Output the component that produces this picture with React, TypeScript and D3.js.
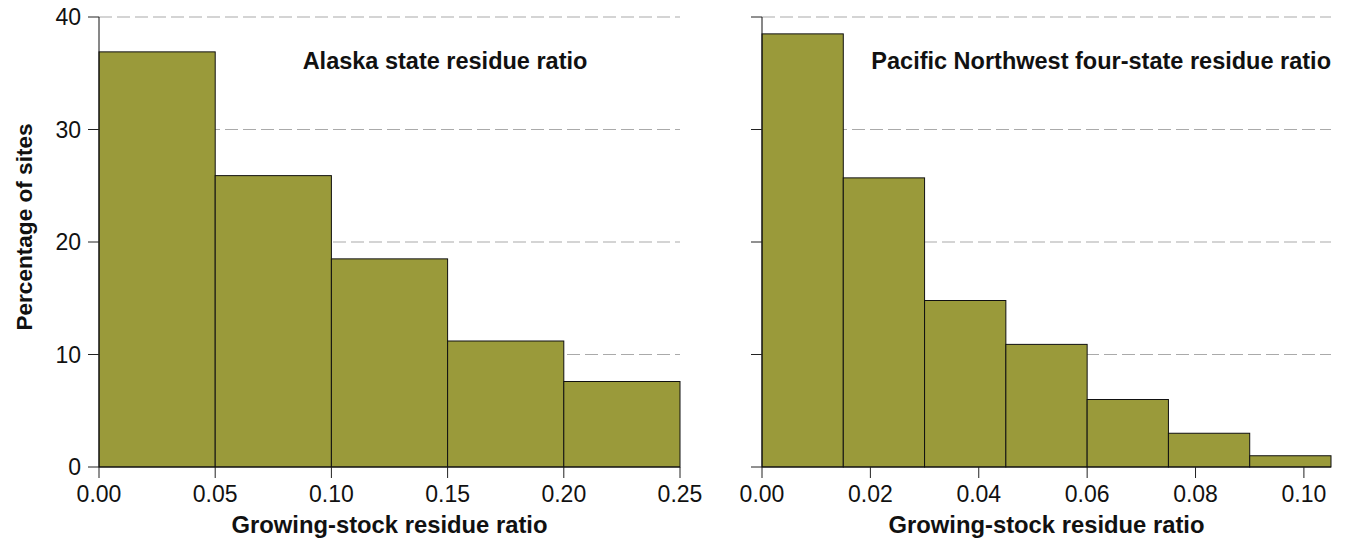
import React from "react";
import * as d3 from "d3";

const alaskaBins = [0, 0.05, 0.1, 0.15, 0.2, 0.25];
const alaskaValues = [36.9, 25.9, 18.5, 11.2, 7.6];
const alaskaTicks = [0, 0.05, 0.1, 0.15, 0.2, 0.25];

const pnwBins = [0, 0.015, 0.03, 0.045, 0.06, 0.075, 0.09, 0.105];
const pnwValues = [38.5, 25.7, 14.8, 10.9, 6.0, 3.0, 1.0];
const pnwTicks = [0, 0.02, 0.04, 0.06, 0.08, 0.1];

const yTicks = [0, 10, 20, 30, 40];
const panelTitles = ["Alaska state residue ratio", "Pacific Northwest four-state residue ratio"];
const xTitle = "Growing-stock residue ratio";
const yTitle = "Percentage of sites";

const FILL = "#9a9a3a";
const FONT = "Liberation Sans, Arial, Helvetica, sans-serif";

type PanelProps = {
  bins: number[];
  values: number[];
  ticks: number[];
  x0: number;
  x1: number;
  showYLabels: boolean;
  title: string;
  titleX: number;
  titleAnchor: string;
};

const Y0 = 467;
const Y1 = 17;
const y = d3.scaleLinear().domain([0, 40]).range([Y0, Y1]);

function Panel({ bins, values, ticks, x0, x1, showYLabels, title, titleX, titleAnchor }: PanelProps) {
  const x = d3.scaleLinear().domain([bins[0], bins[bins.length - 1]]).range([x0, x1]);
  return (
    <g>
      {yTicks.filter((t) => t > 0).map((t) => (
        <line key={"g" + t} x1={x0} x2={x1} y1={y(t)} y2={y(t)} stroke="#aaaaaa" strokeWidth={1.2} strokeDasharray="13,5" />
      ))}
      {values.map((v, i) => (
        <rect
          key={i}
          x={x(bins[i])}
          y={y(v)}
          width={x(bins[i + 1]) - x(bins[i])}
          height={y(0) - y(v)}
          fill={FILL}
          stroke="#111"
          strokeWidth={1}
        />
      ))}
      <line x1={x0} x2={x0} y1={Y1} y2={Y0} stroke="#111" strokeWidth={1} />
      <line x1={x0} x2={x1} y1={Y0} y2={Y0} stroke="#111" strokeWidth={1} />
      {yTicks.map((t) => (
        <g key={"yt" + t}>
          <line x1={x0 - 11} x2={x0} y1={y(t)} y2={y(t)} stroke="#222" strokeWidth={1} />
          {showYLabels && (
            <text x={x0 - 18} y={y(t)} dy="0.35em" textAnchor="end" fontSize={23} fontFamily={FONT} fill="#111">
              {t}
            </text>
          )}
        </g>
      ))}
      {ticks.map((t) => (
        <g key={"xt" + t}>
          <line x1={x(t)} x2={x(t)} y1={Y0} y2={Y0 + 11} stroke="#222" strokeWidth={1} />
          <text x={x(t)} y={502} textAnchor="middle" fontSize={23} fontFamily={FONT} fill="#111">
            {t.toFixed(2)}
          </text>
        </g>
      ))}
      <text x={(x0 + x1) / 2} y={533} textAnchor="middle" fontSize={23.8} fontWeight="bold" fontFamily={FONT} fill="#111">
        {xTitle}
      </text>
      <text x={titleX} y={69} textAnchor={titleAnchor} fontSize={23.5} fontWeight="bold" fontFamily={FONT} fill="#111">
        {title}
      </text>
    </g>
  );
}

export default function App() {
  return (
    <svg width={1347} height={540} style={{ position: "absolute", left: 0, top: 0 }}>
      <rect width={1347} height={540} fill="#fff" />
      <Panel bins={alaskaBins} values={alaskaValues} ticks={alaskaTicks} x0={99} x1={680} showYLabels={true}
        title={panelTitles[0]} titleX={445} titleAnchor="middle" />
      <Panel bins={pnwBins} values={pnwValues} ticks={pnwTicks} x0={762} x1={1331} showYLabels={false}
        title={panelTitles[1]} titleX={1331} titleAnchor="end" />
      <text transform="translate(32,227) rotate(-90)" textAnchor="middle" fontSize={22.6} fontWeight="bold" fontFamily={FONT} fill="#111">
        {yTitle}
      </text>
    </svg>
  );
}
